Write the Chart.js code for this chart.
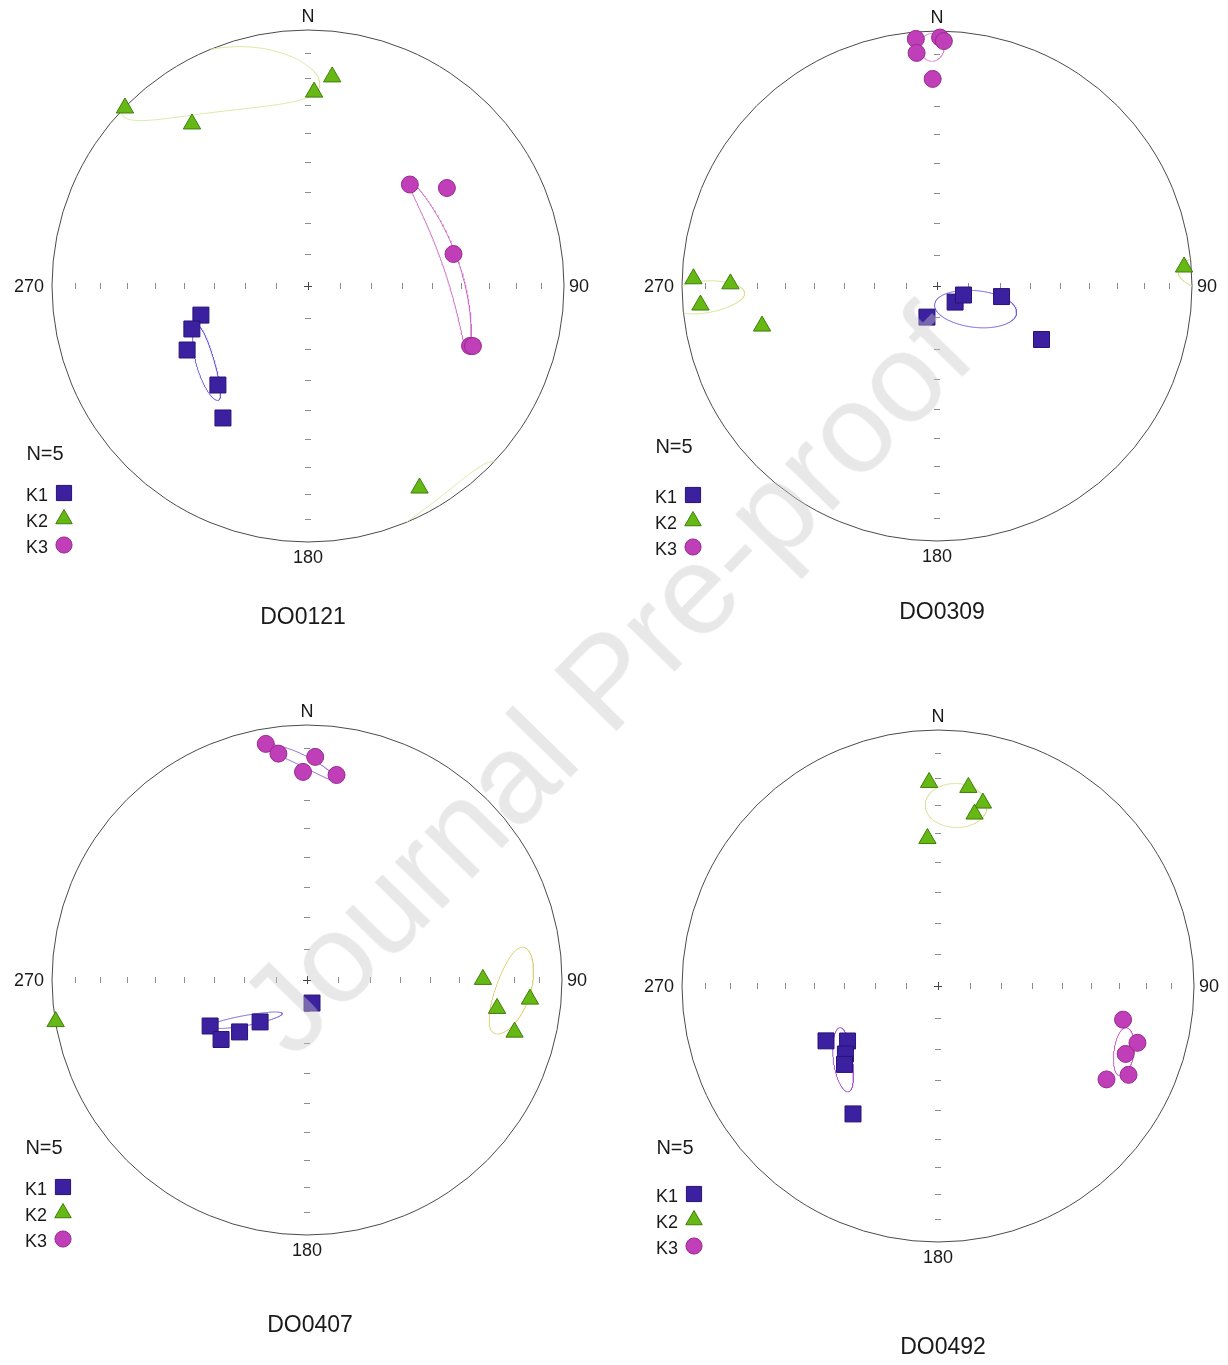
<!DOCTYPE html>
<html>
<head>
<meta charset="utf-8">
<title>AMS principal axes</title>
<script src="https://cdn.jsdelivr.net/npm/chart.js@4.4.1/dist/chart.umd.min.js"></script>
<style>
  body { margin: 0; background: #fff; width: 1228px; height: 1365px; position: relative; overflow: hidden; }
  canvas { position: absolute; }
  #wm {
    position: absolute; left: 605px; top: 680px;
    transform: translate(-50%, -50%) rotate(-45.6deg);
    font: 127px Arial, "Liberation Sans", sans-serif;
    color: rgba(200, 200, 200, 0.42);
    white-space: nowrap; pointer-events: none;
  }
</style>
</head>
<body>
<canvas id="c0" width="614" height="683" style="left:0;top:0"></canvas>
<canvas id="c1" width="614" height="683" style="left:614px;top:0"></canvas>
<canvas id="c2" width="614" height="683" style="left:0;top:682px"></canvas>
<canvas id="c3" width="614" height="683" style="left:614px;top:682px"></canvas>
<div id="wm">Journal Pre-proof</div>
<script>
// principal susceptibility axes, [declination, inclination] in degrees
const DO0121_K1 = [[254.8, 54.3], [249.7, 50.0], [242.1, 45.6], [222.3, 46.6], [212.8, 38.6]];
const DO0121_K2 = [[314.2, 0.3], [324.4, 23.2], [1.8, 25.2], [6.6, 18.9], [151.1, 10.8]];
const DO0121_K3 = [[45.1, 43.2], [54.8, 34.0], [77.6, 41.4], [110.3, 33.0], [110.0, 32.0]];

const DO0309_K1 = [[197.9, 79.6], [131.6, 82.3], [108.8, 81.1], [99.3, 69.1], [117.1, 52.0]];
const DO0309_K2 = [[271.7, 5.0], [270.6, 20.1], [265.4, 7.7], [257.1, 30.3], [85.6, 3.2]];
const DO0309_K3 = [[355.1, 3.1], [0.7, 2.9], [1.6, 4.4], [355.0, 9.1], [358.8, 19.9]];

const DO0407_K1 = [[167.7, 82.5], [244.6, 55.4], [235.3, 56.3], [232.4, 62.7], [228.2, 69.9]];
const DO0407_K2 = [[89.8, 31.6], [98.5, 25.6], [94.9, 13.3], [104.1, 17.2], [260.6, 0.1]];
const DO0407_K3 = [[350.1, 6.7], [352.8, 11.5], [2.1, 13.5], [358.9, 19.5], [8.2, 19.9]];

const DO0492_K1 = [[243.9, 49.7], [238.7, 56.0], [233.7, 53.0], [230.0, 50.6], [213.6, 39.8]];
const DO0492_K2 = [[357.5, 21.5], [8.7, 22.6], [13.8, 27.3], [12.0, 31.9], [355.9, 41.8]];
const DO0492_K3 = [[100.3, 27.4], [105.9, 20.1], [109.9, 23.1], [115.0, 19.0], [119.0, 25.7]];

// confidence ellipses: [dec, inc, semi-major, semi-minor, azimuth of major axis] in degrees
const DO0121_E1 = [232.9, 48.4, 11.8, 3.0, 24];
const DO0121_E2 = [337, 13, 27, 12, 28];
const DO0121_E3 = [81, 43, 27, 2.7, -12];
const DO0309_E1 = [120.7, 75.6, 13.2, 5.8, 66];
const DO0309_E2 = [267.3, 9.8, 15.7, 3.9, 88];
const DO0309_E3 = [358.8, 7.0, 5.9, 2.9, 90];
const DO0407_E1 = [236.4, 66.6, 11.8, 1.6, 112.5];
const DO0407_E2 = [93.3, 20.2, 12.5, 6.4, 27];
const DO0407_E3 = [358.4, 14.6, 12.3, 1.9, 40];
const DO0492_E1 = [232.1, 51.1, 10.0, 3.1, 34];
const DO0492_E2 = [5.7, 29.7, 8.5, 8.0, -19];
const DO0492_E3 = [109.5, 23.9, 6.6, 3.7, -20];

const tickDips = [10, 20, 30, 40, 50, 60, 70, 80];
const compass = ['N', '90', '180', '270'];
const axisNames = ['K1', 'K2', 'K3'];

const panels = [
  { id: 'c0', site: 'DO0121', k: [DO0121_K1, DO0121_K2, DO0121_K3], e: [DO0121_E1, DO0121_E2, DO0121_E3],
    eCol: ['#6f63d8', '#dde6a2', '#cc6cc6'], cx: 308, cy: 286, R: 256, nDy: 168, kDy: 209, tDx: -5, tDy: 332 },
  { id: 'c1', site: 'DO0309', k: [DO0309_K1, DO0309_K2, DO0309_K3], e: [DO0309_E1, DO0309_E2, DO0309_E3],
    eCol: ['#6f63d8', '#d6e090', '#d88ad0'], cx: 323, cy: 286, R: 255, nDy: 161, kDy: 211, tDx: 5, tDy: 327 },
  { id: 'c2', site: 'DO0407', k: [DO0407_K1, DO0407_K2, DO0407_K3], e: [DO0407_E1, DO0407_E2, DO0407_E3],
    eCol: ['#6f63d8', '#dcd27a', '#8c68d6'], cx: 307, cy: 298, R: 255, nDy: 168, kDy: 209, tDx: 3, tDy: 346 },
  { id: 'c3', site: 'DO0492', k: [DO0492_K1, DO0492_K2, DO0492_K3], e: [DO0492_E1, DO0492_E2, DO0492_E3],
    eCol: ['#a05ad0', '#d6e090', '#cc62c8'], cx: 324, cy: 304, R: 256, nDy: 162, kDy: 210, tDx: 5, tDy: 362 }
];

const marks = [
  { pointStyle: 'rect', radius: 11.3, fill: '#3b21a0', line: '#2a1278' },
  { pointStyle: 'triangle', radius: 10, fill: '#66b914', line: '#3f7d08' },
  { pointStyle: 'circle', radius: 8.5, fill: '#c03eb8', line: '#982a90' }
];

const rad = d => d * Math.PI / 180;

// Schmidt (equal-area) lower hemisphere
function eqArea(inc) {
  return Math.SQRT2 * Math.sin(rad(90 - inc) / 2);
}
function toXY([dec, inc]) {
  const r = eqArea(inc);
  return { x: r * Math.sin(rad(dec)), y: r * Math.cos(rad(dec)) };
}

// outline of a cone around a mean direction, flipped to the lower hemisphere where it crosses
function coneTrace(e) {
  const [dec, inc, a, b, rot] = e.map(rad);
  const m = [Math.cos(inc) * Math.sin(dec), Math.cos(inc) * Math.cos(dec), Math.sin(inc)];
  const az = [Math.cos(dec), -Math.sin(dec), 0];
  const dn = [-Math.sin(inc) * Math.sin(dec), -Math.sin(inc) * Math.cos(dec), Math.cos(inc)];
  const u = az.map((v, i) => Math.cos(rot) * v + Math.sin(rot) * dn[i]);
  const w = az.map((v, i) => -Math.sin(rot) * v + Math.cos(rot) * dn[i]);
  const ta = Math.tan(a), tb = Math.tan(b);
  const out = [];
  let prev = null;
  for (let k = 0; k <= 360; k++) {
    const t = k / 360 * 2 * Math.PI;
    let p = m.map((v, i) => v + ta * Math.cos(t) * u[i] + tb * Math.sin(t) * w[i]);
    const n = Math.hypot(p[0], p[1], p[2]);
    p = p.map(v => v / n);
    const up = p[2] < 0;
    if (up) p = p.map(v => -v);
    if (prev !== null && up !== prev) out.push({ x: 0, y: null });
    prev = up;
    const h = Math.hypot(p[0], p[1]) || 1;
    const r = Math.sqrt(Math.max(0, 1 - p[2]));
    out.push({ x: r * p[0] / h, y: r * p[1] / h });
  }
  return out;
}

const FONT = 'Arial, "Liberation Sans", sans-serif';

const netFrame = {
  id: 'netFrame',
  beforeDatasetsDraw(chart) {
    const { ctx, scales: { x, y } } = chart;
    const cx = x.getPixelForValue(0), cy = y.getPixelForValue(0);
    const R = x.getPixelForValue(1) - cx;
    const seg = (x1, y1, x2, y2) => { ctx.beginPath(); ctx.moveTo(x1, y1); ctx.lineTo(x2, y2); ctx.stroke(); };
    ctx.save();
    ctx.lineWidth = 1;
    ctx.strokeStyle = '#4a4a4a';
    ctx.beginPath();
    ctx.arc(cx, cy, R, 0, 2 * Math.PI);
    ctx.stroke();
    ctx.strokeStyle = '#8c8c8c';
    tickDips.forEach(d => {
      const r = eqArea(d);
      [-1, 1].forEach(s => {
        const px = Math.round(x.getPixelForValue(s * r)) + 0.5;
        const py = Math.round(y.getPixelForValue(s * r)) + 0.5;
        seg(px, cy - 3, px, cy + 3);
        seg(cx - 3, py, cx + 3, py);
      });
    });
    ctx.strokeStyle = '#444';
    seg(cx - 4, cy + 0.5, cx + 4, cy + 0.5);
    seg(cx + 0.5, cy - 4, cx + 0.5, cy + 4);
    ctx.restore();
  },
  afterDraw(chart, args, opts) {
    const { ctx, scales: { x, y } } = chart;
    const cx = x.getPixelForValue(0), cy = y.getPixelForValue(0);
    const R = x.getPixelForValue(1) - cx;
    const p = opts.panel;
    ctx.save();
    ctx.fillStyle = '#1a1a1a';
    ctx.textBaseline = 'middle';
    ctx.font = '18px ' + FONT;
    ctx.textAlign = 'center';
    ctx.fillText(compass[0], cx, cy - R - 13);
    ctx.fillText(compass[2], cx, cy + R + 16);
    ctx.textAlign = 'left';
    ctx.fillText(compass[1], cx + R + 5, cy + 1);
    ctx.textAlign = 'right';
    ctx.fillText(compass[3], cx - R - 8, cy + 1);

    ctx.textAlign = 'center';
    ctx.font = '20px ' + FONT;
    ctx.fillText('N=' + p.k[0].length, cx - 263, cy + p.nDy);
    ctx.font = '18px ' + FONT;
    axisNames.forEach((name, i) => {
      const yy = cy + p.kDy + i * 26;
      ctx.fillStyle = '#1a1a1a';
      ctx.fillText(name, cx - 271, yy + 1);
      const mk = marks[i];
      ctx.fillStyle = mk.fill;
      ctx.strokeStyle = mk.line;
      ctx.lineWidth = 1;
      Chart.helpers.drawPoint(ctx, { pointStyle: mk.pointStyle, radius: mk.radius * 0.95, borderWidth: 1, rotation: 0 },
        cx - 244, yy - 2);
    });
    ctx.fillStyle = '#1a1a1a';
    ctx.font = '23px ' + FONT;
    ctx.fillText(p.site, cx + p.tDx, cy + p.tDy);
    ctx.restore();
  }
};

panels.forEach(p => {
  const W = 614, H = 683;
  const datasets = [];
  p.k.forEach((pts, i) => {
    const mk = marks[i];
    datasets.push({
      label: axisNames[i],
      data: pts.map(toXY),
      pointStyle: mk.pointStyle,
      pointRadius: mk.radius,
      backgroundColor: mk.fill,
      borderColor: mk.line,
      borderWidth: 1,
      showLine: false,
      clip: false,
      order: 0
    });
  });
  p.e.forEach((e, i) => {
    datasets.push({
      label: axisNames[i] + ' ellipse',
      data: coneTrace(e),
      showLine: true,
      spanGaps: false,
      pointRadius: 0,
      borderColor: p.eCol[i],
      borderWidth: 1,
      tension: 0,
      clip: false,
      order: 1
    });
  });
  new Chart(document.getElementById(p.id), {
    type: 'scatter',
    data: { datasets },
    options: {
      responsive: false,
      maintainAspectRatio: false,
      devicePixelRatio: 1,
      animation: false,
      events: [],
      layout: { padding: { left: p.cx - p.R, top: p.cy - p.R, right: W - p.cx - p.R, bottom: H - p.cy - p.R } },
      scales: {
        x: { type: 'linear', min: -1, max: 1, display: false },
        y: { type: 'linear', min: -1, max: 1, display: false }
      },
      plugins: {
        legend: { display: false },
        tooltip: { enabled: false },
        netFrame: { panel: p }
      }
    },
    plugins: [netFrame]
  });
});
</script>
</body>
</html>
